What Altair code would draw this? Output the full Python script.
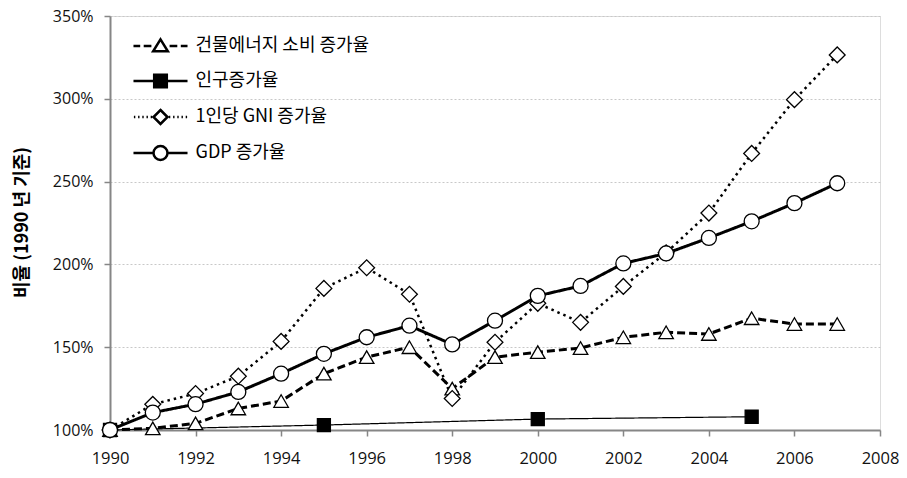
import altair as alt
import pandas as pd

years = list(range(1990, 2008))
series_names = ["건물에너지 소비 증가율", "인구증가율", "1인당 GNI 증가율", "GDP 증가율"]

energy = [100, 101, 104, 113, 117.5, 134, 144, 150, 125, 144, 147, 149.5, 156, 159, 158, 167.5, 164, 164]
pop_years = [1990, 1995, 2000, 2005]
population = [100, 103, 106.6, 108]
gni = [100, 115.5, 122, 132.5, 153.5, 185.5, 198, 182, 119, 153, 176.5, 165, 186.7, 207, 231, 267, 299.5, 326.5]
gdp = [100, 110.5, 115.6, 123, 134, 146, 156, 163, 151.7, 166, 181, 187, 200.6, 206.6, 216, 226, 237, 249]

dashes = [[8, 4], [1, 0], [2.5, 4], [1, 0]]
widths = [3, 1.2, 2.5, 3]
shapes = ["triangle-up", "square", "diamond", "circle"]
fills = ["white", "black", "white", "white"]
sizes = [210, 169, 250, 225]

legend_paths = [
    "M-3.86,0H-2.9M-2.4,0H-1.3M0,-0.95L1.05,0.75L-1.05,0.75ZM1.3,0H2.4M2.9,0H3.86",
    "M-3.86,0H-0.9M0.9,0H3.86M-0.9,-0.9H0.9V0.9H-0.9Z",
    "M-3.8,0h0.2M-3.2,0h0.2M-2.6,0h0.2M-2.0,0h0.2M-1.4,0h0.2M0,-1L1,0L0,1L-1,0ZM1.2,0h0.2M1.8,0h0.2M2.4,0h0.2M3.0,0h0.2M3.6,0h0.2",
    "M-3.86,0H-1M1,0H3.86M1,0A1,1 0 1,1 -1,0A1,1 0 1,1 1,0Z",
]

rows = []
series_data = [(years, energy), (pop_years, population), (years, gni), (years, gdp)]
for i, (ys, vs) in enumerate(series_data):
    for y, v in zip(ys, vs):
        rows.append({"year": y, "value": v, "series": series_names[i], "order": i,
                     "sw": widths[i], "sz": sizes[i]})
df = pd.DataFrame(rows)

xenc = alt.X("year:Q", scale=alt.Scale(domain=[1990, 2008], nice=False, zero=False),
             axis=alt.Axis(values=list(range(1990, 2009, 2)), format="d", title=None,
                           grid=False, domainColor="#868686", domainWidth=2,
                           tickColor="#868686", tickWidth=1.5, tickSize=6,
                           labelFont="Open Sans", labelFontSize=16.5, labelColor="#111",
                           labelPadding=14, labelFlush=False))
yenc = alt.Y("value:Q", scale=alt.Scale(domain=[100, 350], nice=False, zero=False),
             axis=alt.Axis(values=[100, 150, 200, 250, 300, 350], labelExpr="datum.value + '%'",
                           title="비율 (1990 년 기준)", titleFont="Noto Sans CJK KR",
                           titleFontSize=18, titleFontWeight="bold", titleColor="#000",
                           titleAngle=270, titleX=-88, titleY=206, titleAlign="center",
                           titleBaseline="middle",
                           grid=True, gridColor="#c8c8c8", gridDash=[2, 2], gridWidth=1,
                           domainColor="#868686", domainWidth=2,
                           tickColor="#868686", tickWidth=1.5, tickSize=6,
                           labelFont="Open Sans", labelFontSize=16, labelColor="#111",
                           labelPadding=11, labelFlush=False))

base = alt.Chart(df)

lines = base.mark_line(color="black").encode(
    x=xenc, y=yenc,
    detail="series:N",
    strokeDash=alt.StrokeDash("series:N", scale=alt.Scale(domain=series_names, range=dashes), legend=None),
    strokeWidth=alt.StrokeWidth("sw:Q", scale=None),
    order="year:Q",
)

points = base.mark_point(stroke="black", strokeWidth=1.3, opacity=1).encode(
    x=xenc, y=yenc,
    shape=alt.Shape("series:N", scale=alt.Scale(domain=series_names, range=shapes), legend=None),
    fill=alt.Fill("series:N", scale=alt.Scale(domain=series_names, range=fills), legend=None),
    size=alt.Size("sz:Q", scale=None),
    order="order:Q",
)

legend_layer = base.mark_point(strokeWidth=2.5, opacity=0).encode(
    x=xenc, y=yenc,
    shape=alt.Shape("series:N", scale=alt.Scale(domain=series_names, range=legend_paths),
                    legend=alt.Legend(title=None, orient="none", legendX=41.5, legendY=21,
                                      padding=0, symbolSize=196, symbolStrokeWidth=2.5,
                                      symbolStrokeColor="black", symbolOpacity=1,
                                      labelFont="Noto Sans CJK KR", labelFontSize=18,
                                      labelColor="#000", labelOffset=26, rowPadding=12,
                                      labelLimit=400)),
    fill=alt.Fill("series:N", scale=alt.Scale(domain=series_names, range=fills), legend=None),
    stroke=alt.Stroke("series:N", scale=alt.Scale(domain=series_names, range=["black"] * 4), legend=None),
)

chart = alt.layer(lines, points, legend_layer).resolve_scale(
    shape="independent", fill="independent", stroke="independent"
).properties(
    width=770, height=414,
    autosize=alt.AutoSizeParams(type="none"),
    padding={"left": 102, "top": 8, "right": 19, "bottom": 40},
).configure_view(stroke="black", strokeWidth=1.5).configure(background="white")

chart.save("out.html", embed_options={"renderer": "svg", "actions": False})
